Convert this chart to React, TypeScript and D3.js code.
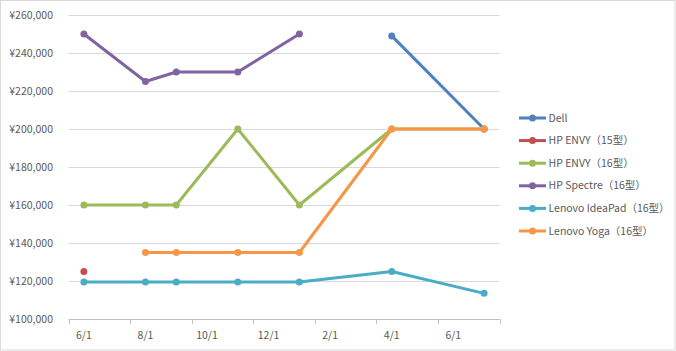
import * as d3 from "d3";
import React, { useEffect } from "react";

// observation dates (month slots on a month-based date axis)
const dates = ["2022-06-01", "2022-08-01", "2022-09-01", "2022-11-01", "2023-01-01", "2023-04-01", "2023-07-01"];
const axisLabels = ["6/1", "8/1", "10/1", "12/1", "2/1", "4/1", "6/1"];
const yTicks = [100000, 120000, 140000, 160000, 180000, 200000, 220000, 240000, 260000];

const seriesNames = ["Dell", "HP ENVY（15型）", "HP ENVY（16型）", "HP Spectre（16型）", "Lenovo IdeaPad（16型）", "Lenovo Yoga（16型）"];
const dell = [null, null, null, null, null, 249000, 200000];
const envy15 = [125000, null, null, null, null, null, null];
const envy16 = [160000, 160000, 160000, 200000, 160000, 200000, 200000];
const spectre = [250000, 225000, 230000, 230000, 250000, null, null];
const ideapad = [119500, 119500, 119500, 119500, 119500, 125000, 113500];
const yoga = [null, 135000, 135000, 135000, 135000, 200000, 200000];
const seriesValues = [dell, envy15, envy16, spectre, ideapad, yoga];
const colors = ["#4F81BD", "#C0504D", "#9BBB59", "#8064A2", "#4BACC6", "#F79646"];

const W = 676, H = 351;
const m = { l: 68.5, r: 499.5, t: 15, b: 319 };
const font = "'Noto Sans CJK JP', 'Noto Sans', sans-serif";

const App: React.FC = () => {
  useEffect(() => { document.body.style.margin = "0" }, []);

  const start = new Date(dates[0]);
  const monthIdx = dates.map(d => d3.timeMonth.count(start, new Date(d)));
  const nMonths = monthIdx[monthIdx.length - 1] + 1;

  const x = d3.scaleLinear([0, nMonths], [m.l, m.r]);
  const y = d3.scaleLinear([100000, 260000], [m.b, m.t]);
  const fmt = (v: number) => "¥" + d3.format(",")(v);

  const line = d3.line<[number, number | null]>()
    .defined(d => d[1] !== null)
    .x(d => x(d[0] + 0.5))
    .y(d => y(d[1] as number));

  const tickMonths = d3.range(0, nMonths + 1, 2);

  return (
    <svg width={W} height={H} style={{ display: "block" }}>
      <rect x={0.5} y={0.5} width={W - 1.5} height={H - 1.5} fill="#fff" stroke="#D9D9D9" />
      {yTicks.map(t => (
        <g key={t}>
          {t > 100000 && <line x1={m.l} x2={m.r} y1={Math.round(y(t)) + 0.5} y2={Math.round(y(t)) + 0.5} stroke="#D9D9D9" />}
          <text x={53} y={y(t)} dy="0.35em" textAnchor="end" fontSize={10.5} fontFamily={font} fill="#595959">{fmt(t)}</text>
        </g>
      ))}
      <line x1={m.l} x2={m.r} y1={m.b + 0.5} y2={m.b + 0.5} stroke="#BFBFBF" />
      {tickMonths.map(t => (
        <line key={t} x1={Math.round(x(t)) + 0.5} x2={Math.round(x(t)) + 0.5} y1={m.b} y2={m.b + 5} stroke="#BFBFBF" />
      ))}
      {axisLabels.map((lab, i) => (
        <text key={i} x={x(i * 2 + 0.5)} y={335} dy="0.35em" textAnchor="middle" fontSize={10.5} fontFamily={font} fill="#595959">{lab}</text>
      ))}
      {seriesValues.map((vals, s) => {
        const pts = vals.map((v, i) => [monthIdx[i], v] as [number, number | null]);
        return (
          <g key={s}>
            <path d={line(pts) || ""} fill="none" stroke={colors[s]} strokeWidth={3} strokeLinejoin="round" />
            {pts.filter(p => p[1] !== null).map((p, i) => (
              <circle key={i} cx={x(p[0] + 0.5)} cy={y(p[1] as number)} r={3.5} fill={colors[s]} />
            ))}
          </g>
        );
      })}
      {seriesNames.map((name, s) => {
        const ly = 118 + s * 22.6;
        return (
          <g key={name}>
            <line x1={519} x2={546} y1={ly} y2={ly} stroke={colors[s]} strokeWidth={3} />
            <circle cx={532.5} cy={ly} r={3.5} fill={colors[s]} />
            <text x={548.5} y={ly} dy="0.35em" fontSize={10.5} fontFamily={font} fill="#595959">{name}</text>
          </g>
        );
      })}
    </svg>
  );
};

export default App;
